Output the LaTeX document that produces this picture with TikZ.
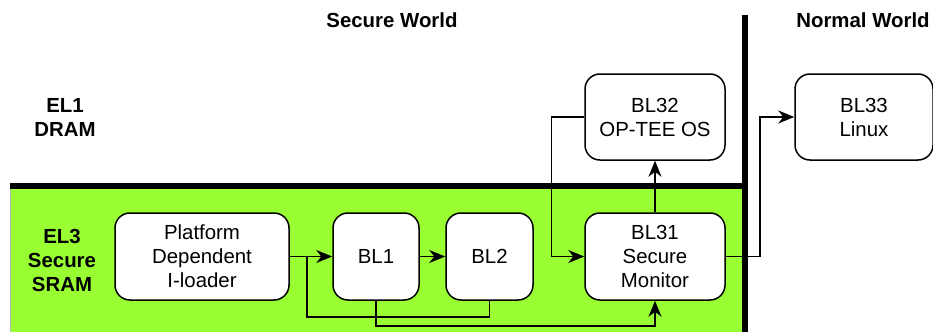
\documentclass[tikz,border=0pt]{standalone}
\usepackage{fontspec}
\setmainfont{Liberation Sans}
\usetikzlibrary{arrows.meta}
\definecolor{sramgreen}{RGB}{153,255,51}
\tikzset{
	stage/.style={draw, fill=white, rounded corners=7.5pt, line width=0.75pt, align=center,
		font=\fontsize{10.2}{12}\selectfont, inner sep=0pt},
	tag/.style={align=center, font=\fontsize{10.2}{12}\selectfont\bfseries},
	flow/.style={line width=0.75pt, -{Stealth[length=8pt,width=6.5pt,inset=2.5pt]}},
	wire/.style={line width=0.75pt},
}

\begin{document}
\begin{tikzpicture}[x=0.5pt, y=-0.5pt]
			%%%%% START %%%%%
			\useasboundingbox (0, 0) rectangle (933, 332);
			
			\fill[sramgreen] (10, 186) rectangle (743, 332);
			\draw[line width=0.3pt, color=black!30] (10, 332) -- (10, 186);
			\fill[black] (10, 183) rectangle (743, 189);
			\fill[black] (742, 15) rectangle (748, 332);
			
			\node[tag] (secure) at (392, 20) {Secure World};
			\node[tag] (normal) at (863, 20) {Normal World};
			\node[tag] (el1) at (65, 117) {EL1\\DRAM};
			\node[tag] (el3) at (62, 260) {EL3\\Secure\\SRAM};
			
			\node[stage, minimum width=87pt, minimum height=43.5pt] (iload) at (202, 256.5) {Platform\\Dependent\\I-loader};
			\node[stage, minimum width=43pt, minimum height=43.5pt] (bl1) at (376, 256.5) {BL1};
			\node[stage, minimum width=43.5pt, minimum height=43.5pt] (bl2) at (489.5, 256.5) {BL2};
			\node[stage, minimum width=70pt, minimum height=43.5pt] (bl31) at (655, 256.5) {BL31\\Secure\\Monitor};
			\node[stage, minimum width=70pt, minimum height=43pt] (bl32) at (655, 117) {BL32\\OP-TEE OS};
			\node[stage, minimum width=69pt, minimum height=43pt] (bl33) at (864, 117) {BL33\\Linux};
			
			\coordinate (split) at (307, 256.5);
			
			\draw[flow] (iload) -- (bl1);
			\draw[flow] (bl1) -- (bl2);
			\draw[wire] (bl2.south) |- (307, 317) -- (split);
			\draw[flow] (bl1.south) |- (655, 326) -- (bl31.south);
			\draw[flow] (bl32.west) -| (551.5, 256.5) -- (bl31.west);
			\draw[flow] (bl31.north) -- (bl32.south);
			\draw[flow] (bl31.east) -| (760, 117) -- (bl33.west);
			
			%%%%% END %%%%%
\end{tikzpicture}
\end{document}
